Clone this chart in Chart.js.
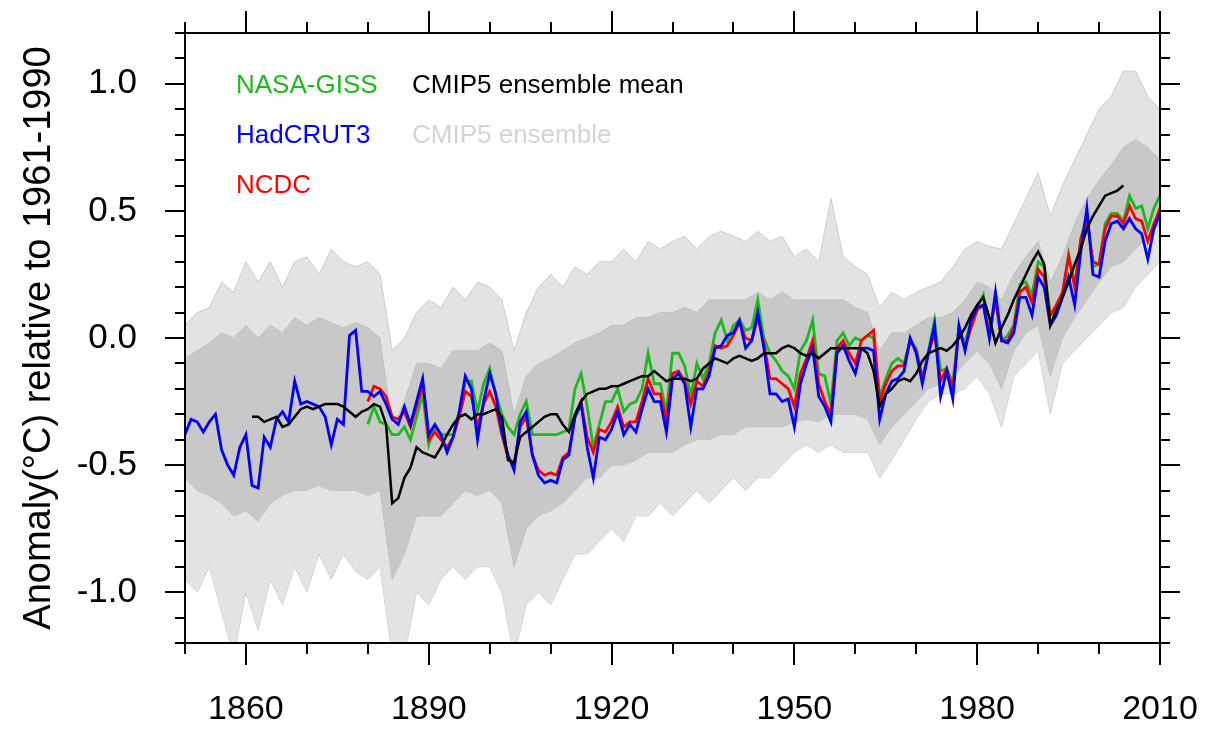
<!DOCTYPE html>
<html>
<head>
<meta charset="utf-8">
<title>Global temperature anomaly: observations vs CMIP5</title>
<script src="https://cdn.jsdelivr.net/npm/chart.js@4.4.1/dist/chart.umd.min.js"></script>
<style>
  html, body { margin: 0; padding: 0; background: #fff; }
  #wrap { position: relative; width: 1211px; height: 730px; }
</style>
</head>
<body>
<div id="wrap"><canvas id="chart" width="1211" height="730"></canvas></div>
<script>
const hadStart = 1850;
const hadcrut3 = [
  -0.38, -0.32, -0.33, -0.37, -0.33, -0.30, -0.44, -0.50, -0.54, -0.43,
  -0.38, -0.58, -0.59, -0.39, -0.43, -0.32, -0.29, -0.33, -0.17, -0.26,
  -0.25, -0.26, -0.27, -0.31, -0.42, -0.32, -0.34, 0.01, 0.03, -0.21,
  -0.21, -0.23, -0.21, -0.26, -0.32, -0.34, -0.27, -0.34, -0.25, -0.16,
  -0.38, -0.34, -0.38, -0.45, -0.39, -0.29, -0.15, -0.20, -0.40, -0.25,
  -0.14, -0.22, -0.37, -0.46, -0.52, -0.33, -0.29, -0.46, -0.54, -0.57,
  -0.56, -0.57, -0.48, -0.46, -0.31, -0.26, -0.43, -0.55, -0.39, -0.40,
  -0.36, -0.29, -0.38, -0.34, -0.37, -0.28, -0.20, -0.25, -0.25, -0.37,
  -0.16, -0.14, -0.18, -0.35, -0.20, -0.20, -0.15, -0.04, -0.03, 0.01,
  0.02, 0.07, -0.04, -0.01, 0.10, -0.04, -0.22, -0.22, -0.25, -0.24,
  -0.35, -0.18, -0.10, -0.04, -0.23, -0.27, -0.33, -0.06, -0.03, -0.09,
  -0.14, -0.04, -0.04, -0.05, -0.32, -0.22, -0.17, -0.16, -0.13, 0.00,
  -0.06, -0.18, -0.06, 0.05, -0.23, -0.13, -0.24, 0.05, -0.05, 0.07,
  0.12, 0.13, 0.00, 0.18, -0.01, -0.02, 0.02, 0.16, 0.16, 0.09,
  0.24, 0.20, 0.05, 0.09, 0.16, 0.24, 0.13, 0.34, 0.51, 0.25,
  0.24, 0.38, 0.45, 0.46, 0.43, 0.47, 0.43, 0.41, 0.31, 0.43,
  0.49
];

const ncdcStart = 1880;
const ncdc = [
  -0.25, -0.19, -0.20, -0.23, -0.31, -0.32, -0.29, -0.35, -0.27, -0.18,
  -0.40, -0.37, -0.40, -0.43, -0.39, -0.31, -0.21, -0.23, -0.35, -0.26,
  -0.21, -0.27, -0.38, -0.47, -0.50, -0.35, -0.31, -0.46, -0.52, -0.54,
  -0.53, -0.54, -0.47, -0.45, -0.31, -0.25, -0.39, -0.45, -0.36, -0.37,
  -0.33, -0.27, -0.35, -0.33, -0.33, -0.25, -0.16, -0.22, -0.22, -0.32,
  -0.14, -0.13, -0.17, -0.26, -0.17, -0.19, -0.13, -0.03, -0.04, -0.03,
  0.01, 0.06, 0.00, -0.01, 0.08, -0.02, -0.16, -0.16, -0.18, -0.20,
  -0.27, -0.14, -0.08, -0.01, -0.18, -0.25, -0.30, -0.04, -0.01, -0.06,
  -0.10, -0.01, 0.01, 0.03, -0.25, -0.18, -0.13, -0.11, -0.11, -0.01,
  -0.05, -0.16, -0.06, 0.02, -0.17, -0.12, -0.20, 0.03, -0.04, 0.04,
  0.11, 0.13, 0.02, 0.15, -0.01, -0.01, 0.04, 0.18, 0.20, 0.14,
  0.27, 0.24, 0.09, 0.13, 0.18, 0.32, 0.20, 0.39, 0.47, 0.30,
  0.29, 0.43, 0.48, 0.48, 0.45, 0.52, 0.47, 0.46, 0.38, 0.45,
  0.51
];

const gissStart = 1880;
const nasaGiss = [
  -0.34, -0.27, -0.33, -0.34, -0.38, -0.38, -0.35, -0.40, -0.31, -0.22,
  -0.42, -0.35, -0.38, -0.38, -0.38, -0.29, -0.17, -0.17, -0.29, -0.18,
  -0.12, -0.22, -0.30, -0.35, -0.38, -0.30, -0.25, -0.38, -0.38, -0.38,
  -0.38, -0.38, -0.37, -0.36, -0.20, -0.14, -0.27, -0.43, -0.34, -0.25,
  -0.25, -0.20, -0.29, -0.26, -0.25, -0.20, -0.06, -0.18, -0.18, -0.29,
  -0.06, -0.06, -0.11, -0.23, -0.10, -0.16, -0.10, 0.02, 0.07, -0.01,
  0.05, 0.07, 0.03, 0.04, 0.15, 0.00, -0.06, -0.09, -0.13, -0.15,
  -0.20, -0.05, -0.01, 0.07, -0.14, -0.15, -0.26, -0.01, 0.02, -0.03,
  0.00, -0.01, 0.01, 0.00, -0.23, -0.16, -0.10, -0.08, -0.10, -0.01,
  -0.04, -0.16, -0.05, 0.07, -0.13, -0.12, -0.18, 0.04, -0.02, 0.07,
  0.12, 0.17, 0.00, 0.16, -0.01, 0.01, 0.05, 0.21, 0.22, 0.17,
  0.30, 0.28, 0.09, 0.11, 0.17, 0.33, 0.21, 0.38, 0.49, 0.28,
  0.29, 0.45, 0.49, 0.49, 0.46, 0.56, 0.51, 0.52, 0.43, 0.51,
  0.56
];

// CMIP5 multi-model ensemble mean
const cmipStart = 1861;
const cmipMean = [
  -0.31, -0.31, -0.33, -0.32, -0.31, -0.35, -0.34, -0.31, -0.28,
  -0.27, -0.28, -0.27, -0.26, -0.26, -0.26, -0.27, -0.29, -0.31, -0.29,
  -0.28, -0.26, -0.27, -0.34, -0.65, -0.63, -0.55, -0.51, -0.43, -0.45,
  -0.46, -0.47, -0.43, -0.38, -0.34, -0.31, -0.30, -0.32, -0.30, -0.30,
  -0.29, -0.28, -0.31, -0.48, -0.49, -0.39, -0.37, -0.35, -0.33, -0.31,
  -0.30, -0.30, -0.34, -0.37, -0.30, -0.25, -0.22, -0.21, -0.20, -0.20,
  -0.19, -0.19, -0.18, -0.17, -0.16, -0.15, -0.15, -0.13, -0.15, -0.17,
  -0.16, -0.16, -0.16, -0.17, -0.16, -0.12, -0.10, -0.08, -0.09, -0.10,
  -0.08, -0.07, -0.08, -0.09, -0.08, -0.06, -0.06, -0.06, -0.04, -0.03,
  -0.04, -0.06, -0.07, -0.06, -0.08, -0.06, -0.04, -0.04, -0.04, -0.04,
  -0.04, -0.04, -0.06, -0.13, -0.27, -0.22, -0.20, -0.17, -0.16, -0.17,
  -0.14, -0.09, -0.06, -0.05, -0.04, -0.05, -0.03, 0.00, 0.04, 0.09,
  0.13, 0.16, 0.08, -0.02, 0.04, 0.09, 0.15, 0.20, 0.25, 0.30,
  0.34, 0.29, 0.05, 0.11, 0.16, 0.22, 0.29, 0.35, 0.43, 0.48,
  0.52, 0.56, 0.57, 0.58, 0.60
];

// CMIP5 ensemble spread, every second year: outer (faint) and inner (dense) bounds
const ensStart = 1850;
const ensStep = 2;
const ensOuterHigh = [
  0.05, 0.10, 0.12, 0.22, 0.18, 0.30, 0.22, 0.30, 0.20, 0.30,
  0.32, 0.25, 0.35, 0.30, 0.28, 0.30, 0.25, -0.05, 0.00, 0.10,
  0.15, 0.12, 0.20, 0.15, 0.22, 0.20, 0.15, -0.05, 0.10, 0.20,
  0.25, 0.20, 0.28, 0.25, 0.30, 0.30, 0.35, 0.30, 0.38, 0.35,
  0.38, 0.40, 0.35, 0.40, 0.42, 0.40, 0.38, 0.42, 0.38, 0.40,
  0.32, 0.35, 0.30, 0.55, 0.32, 0.28, 0.25, 0.12, 0.18, 0.15,
  0.18, 0.20, 0.22, 0.28, 0.35, 0.38, 0.36, 0.35, 0.45, 0.55,
  0.65, 0.48, 0.60, 0.70, 0.80, 0.90, 0.95, 1.05, 1.05, 0.95,
  0.90
];
const ensInnerHigh = [
  -0.08, -0.05, -0.02, 0.02, 0.00, 0.05, 0.00, 0.05, 0.02, 0.08,
  0.05, 0.08, 0.06, 0.04, 0.06, 0.04, 0.00, -0.35, -0.25, -0.10,
  -0.10, -0.12, -0.05, -0.05, -0.05, -0.02, -0.05, -0.30, -0.15, -0.10,
  -0.08, -0.05, -0.02, 0.00, 0.02, 0.05, 0.05, 0.08, 0.08, 0.10,
  0.10, 0.12, 0.10, 0.15, 0.15, 0.15, 0.15, 0.18, 0.15, 0.18,
  0.15, 0.15, 0.15, 0.15, 0.15, 0.12, 0.10, -0.05, 0.02, 0.02,
  0.05, 0.08, 0.08, 0.10, 0.15, 0.22, 0.20, 0.15, 0.25, 0.32,
  0.38, 0.22, 0.32, 0.45, 0.55, 0.62, 0.68, 0.75, 0.78, 0.75,
  0.70
];
const ensInnerLow = [
  -0.55, -0.60, -0.62, -0.65, -0.70, -0.68, -0.72, -0.65, -0.62, -0.60,
  -0.60, -0.58, -0.60, -0.60, -0.60, -0.62, -0.60, -0.95, -0.85, -0.70,
  -0.70, -0.70, -0.65, -0.60, -0.62, -0.60, -0.65, -0.90, -0.75, -0.70,
  -0.68, -0.65, -0.60, -0.55, -0.55, -0.50, -0.50, -0.48, -0.45, -0.45,
  -0.45, -0.42, -0.40, -0.40, -0.38, -0.38, -0.35, -0.35, -0.35, -0.35,
  -0.33, -0.32, -0.33, -0.30, -0.30, -0.30, -0.32, -0.42, -0.35, -0.30,
  -0.25, -0.20, -0.18, -0.15, -0.10, -0.05, -0.10, -0.20, -0.05, 0.02,
  0.05, -0.15, 0.00, 0.08, 0.15, 0.22, 0.28, 0.30, 0.35, 0.40,
  0.45
];
const ensOuterLow = [
  -0.95, -1.00, -0.90, -1.08, -1.25, -1.00, -1.15, -0.95, -1.05, -0.90,
  -1.00, -0.85, -0.95, -0.85, -0.92, -0.95, -0.90, -1.25, -1.25, -1.00,
  -1.05, -0.95, -0.90, -0.95, -0.90, -0.90, -1.00, -1.25, -1.05, -1.00,
  -1.05, -0.95, -0.85, -0.85, -0.80, -0.75, -0.80, -0.70, -0.70, -0.65,
  -0.70, -0.65, -0.60, -0.65, -0.60, -0.55, -0.60, -0.55, -0.55, -0.50,
  -0.45, -0.42, -0.45, -0.42, -0.45, -0.45, -0.45, -0.55, -0.48, -0.40,
  -0.32, -0.25, -0.22, -0.22, -0.20, -0.15, -0.22, -0.35, -0.15, -0.10,
  -0.05, -0.30, -0.10, -0.05, 0.00, 0.05, 0.10, 0.12, 0.20, 0.25,
  0.30
];

// Axis tick labels
const xTickLabels = [1860, 1890, 1920, 1950, 1980, 2010];
const yTickLabels = [-1.0, -0.5, 0.0, 0.5, 1.0];

// Legend texts drawn inside the plot (two columns like the original)
const legendItems = [
  { text: 'NASA-GISS', color: 'rgb(30,185,30)', col: 0, row: 0 },
  { text: 'HadCRUT3', color: 'rgb(0,0,255)', col: 0, row: 1 },
  { text: 'NCDC', color: 'rgb(255,0,0)', col: 0, row: 2 },
  { text: 'CMIP5 ensemble mean', color: '#000000', col: 1, row: 0 },
  { text: 'CMIP5 ensemble', color: 'rgb(212,212,212)', col: 1, row: 1 }
];

const FONT = "'Liberation Sans', Arial, Helvetica, sans-serif";

// Turn a start year + values into {x, y} points
function toPoints(start, step, values) {
  return values.map((v, i) => ({ x: start + i * step, y: v }));
}

function lineSet(label, start, values, color, width) {
  return {
    label: label,
    data: toPoints(start, 1, values),
    borderColor: color,
    borderWidth: width,
    pointRadius: 0,
    tension: 0,
    fill: false
  };
}

function bandSet(label, values, lineColor, fillColor, fill) {
  return {
    label: label,
    data: toPoints(ensStart, ensStep, values),
    borderColor: lineColor,
    borderWidth: 1,
    backgroundColor: fillColor,
    pointRadius: 0,
    tension: 0,
    fill: fill
  };
}

// Plot frame, outward tick marks on all four sides and in-plot legend
const frameAndLegend = {
  id: 'frameAndLegend',
  afterDraw(chart) {
    const ctx = chart.ctx;
    const a = chart.chartArea;
    const xs = chart.scales.x;
    const ys = chart.scales.y;
    ctx.save();
    ctx.strokeStyle = '#000';
    ctx.lineWidth = 2;
    ctx.strokeRect(a.left, a.top, a.right - a.left, a.bottom - a.top);

    ctx.beginPath();
    for (let yr = 1850; yr <= 2010; yr += 10) {
      const px = Math.round(xs.getPixelForValue(yr));
      const len = xTickLabels.includes(yr) ? 22 : 11;
      ctx.moveTo(px, a.bottom); ctx.lineTo(px, a.bottom + len);
      ctx.moveTo(px, a.top); ctx.lineTo(px, a.top - len);
    }
    for (let k = -12; k <= 12; k++) {
      const py = Math.round(ys.getPixelForValue(k / 10));
      const len = k % 5 === 0 ? 20 : 10;
      ctx.moveTo(a.left, py); ctx.lineTo(a.left - len, py);
      ctx.moveTo(a.right, py); ctx.lineTo(a.right + len, py);
    }
    ctx.stroke();

    // legend
    ctx.font = '26px ' + FONT;
    ctx.textBaseline = 'alphabetic';
    ctx.textAlign = 'left';
    legendItems.forEach(item => {
      const x = a.left + (item.col === 0 ? 51 : 227);
      const y = a.top + 60 + item.row * 50;
      ctx.fillStyle = item.color;
      ctx.fillText(item.text, x, y);
    });
    ctx.restore();
  }
};

const datasets = [
  lineSet('CMIP5 ensemble mean', cmipStart, cmipMean, '#000000', 2.5),
  lineSet('HadCRUT3', hadStart, hadcrut3, 'rgb(0,0,255)', 2.8),
  lineSet('NCDC', ncdcStart, ncdc, 'rgb(255,0,0)', 2.8),
  lineSet('NASA-GISS', gissStart, nasaGiss, 'rgb(30,185,30)', 2.8),
  bandSet('ens inner high', ensInnerHigh, 'rgba(190,190,190,0.9)', 'rgba(196,196,196,0.85)', '+1'),
  bandSet('ens inner low', ensInnerLow, 'rgba(190,190,190,0.9)', 'rgba(0,0,0,0)', false),
  bandSet('ens outer high', ensOuterHigh, 'rgba(200,200,200,0.9)', 'rgba(222,222,222,0.85)', '+1'),
  bandSet('ens outer low', ensOuterLow, 'rgba(200,200,200,0.9)', 'rgba(0,0,0,0)', false)
];

// invisible tick marks: only used to push the labels away from the frame
const hiddenTicks = len => ({
  display: true,
  drawOnChartArea: false,
  drawTicks: true,
  tickLength: len,
  tickColor: 'rgba(0,0,0,0)'
});

new Chart(document.getElementById('chart'), {
  type: 'line',
  data: { datasets: datasets },
  options: {
    responsive: false,
    animation: false,
    events: [],
    layout: { padding: { left: 0, right: 51, top: 33, bottom: 0 } },
    plugins: {
      legend: { display: false },
      tooltip: { enabled: false },
      filler: { propagate: false }
    },
    scales: {
      x: {
        type: 'linear',
        min: 1850,
        max: 2010,
        afterFit: scale => { scale.height = 87; },
        grid: hiddenTicks(46),
        border: { display: false },
        ticks: {
          stepSize: 30,
          includeBounds: false,
          autoSkip: false,
          maxRotation: 0,
          padding: 0,
          color: '#000',
          font: { family: FONT, size: 34 },
          callback: v => (xTickLabels.includes(v) ? String(v) : '')
        }
      },
      y: {
        type: 'linear',
        min: -1.2,
        max: 1.2,
        afterFit: scale => { scale.width = 185; },
        grid: hiddenTicks(48),
        border: { display: false },
        ticks: {
          stepSize: 0.5,
          includeBounds: false,
          autoSkip: false,
          padding: 0,
          color: '#000',
          font: { family: FONT, size: 35 },
          callback: v => (yTickLabels.some(t => Math.abs(t - v) < 1e-6) ? v.toFixed(1) : '')
        },
        title: {
          display: true,
          text: 'Anomaly(°C) relative to 1961-1990',
          color: '#000',
          font: { family: FONT, size: 38 },
          padding: { top: 17, bottom: 0 }
        }
      }
    }
  },
  plugins: [frameAndLegend]
});
</script>
</body>
</html>
